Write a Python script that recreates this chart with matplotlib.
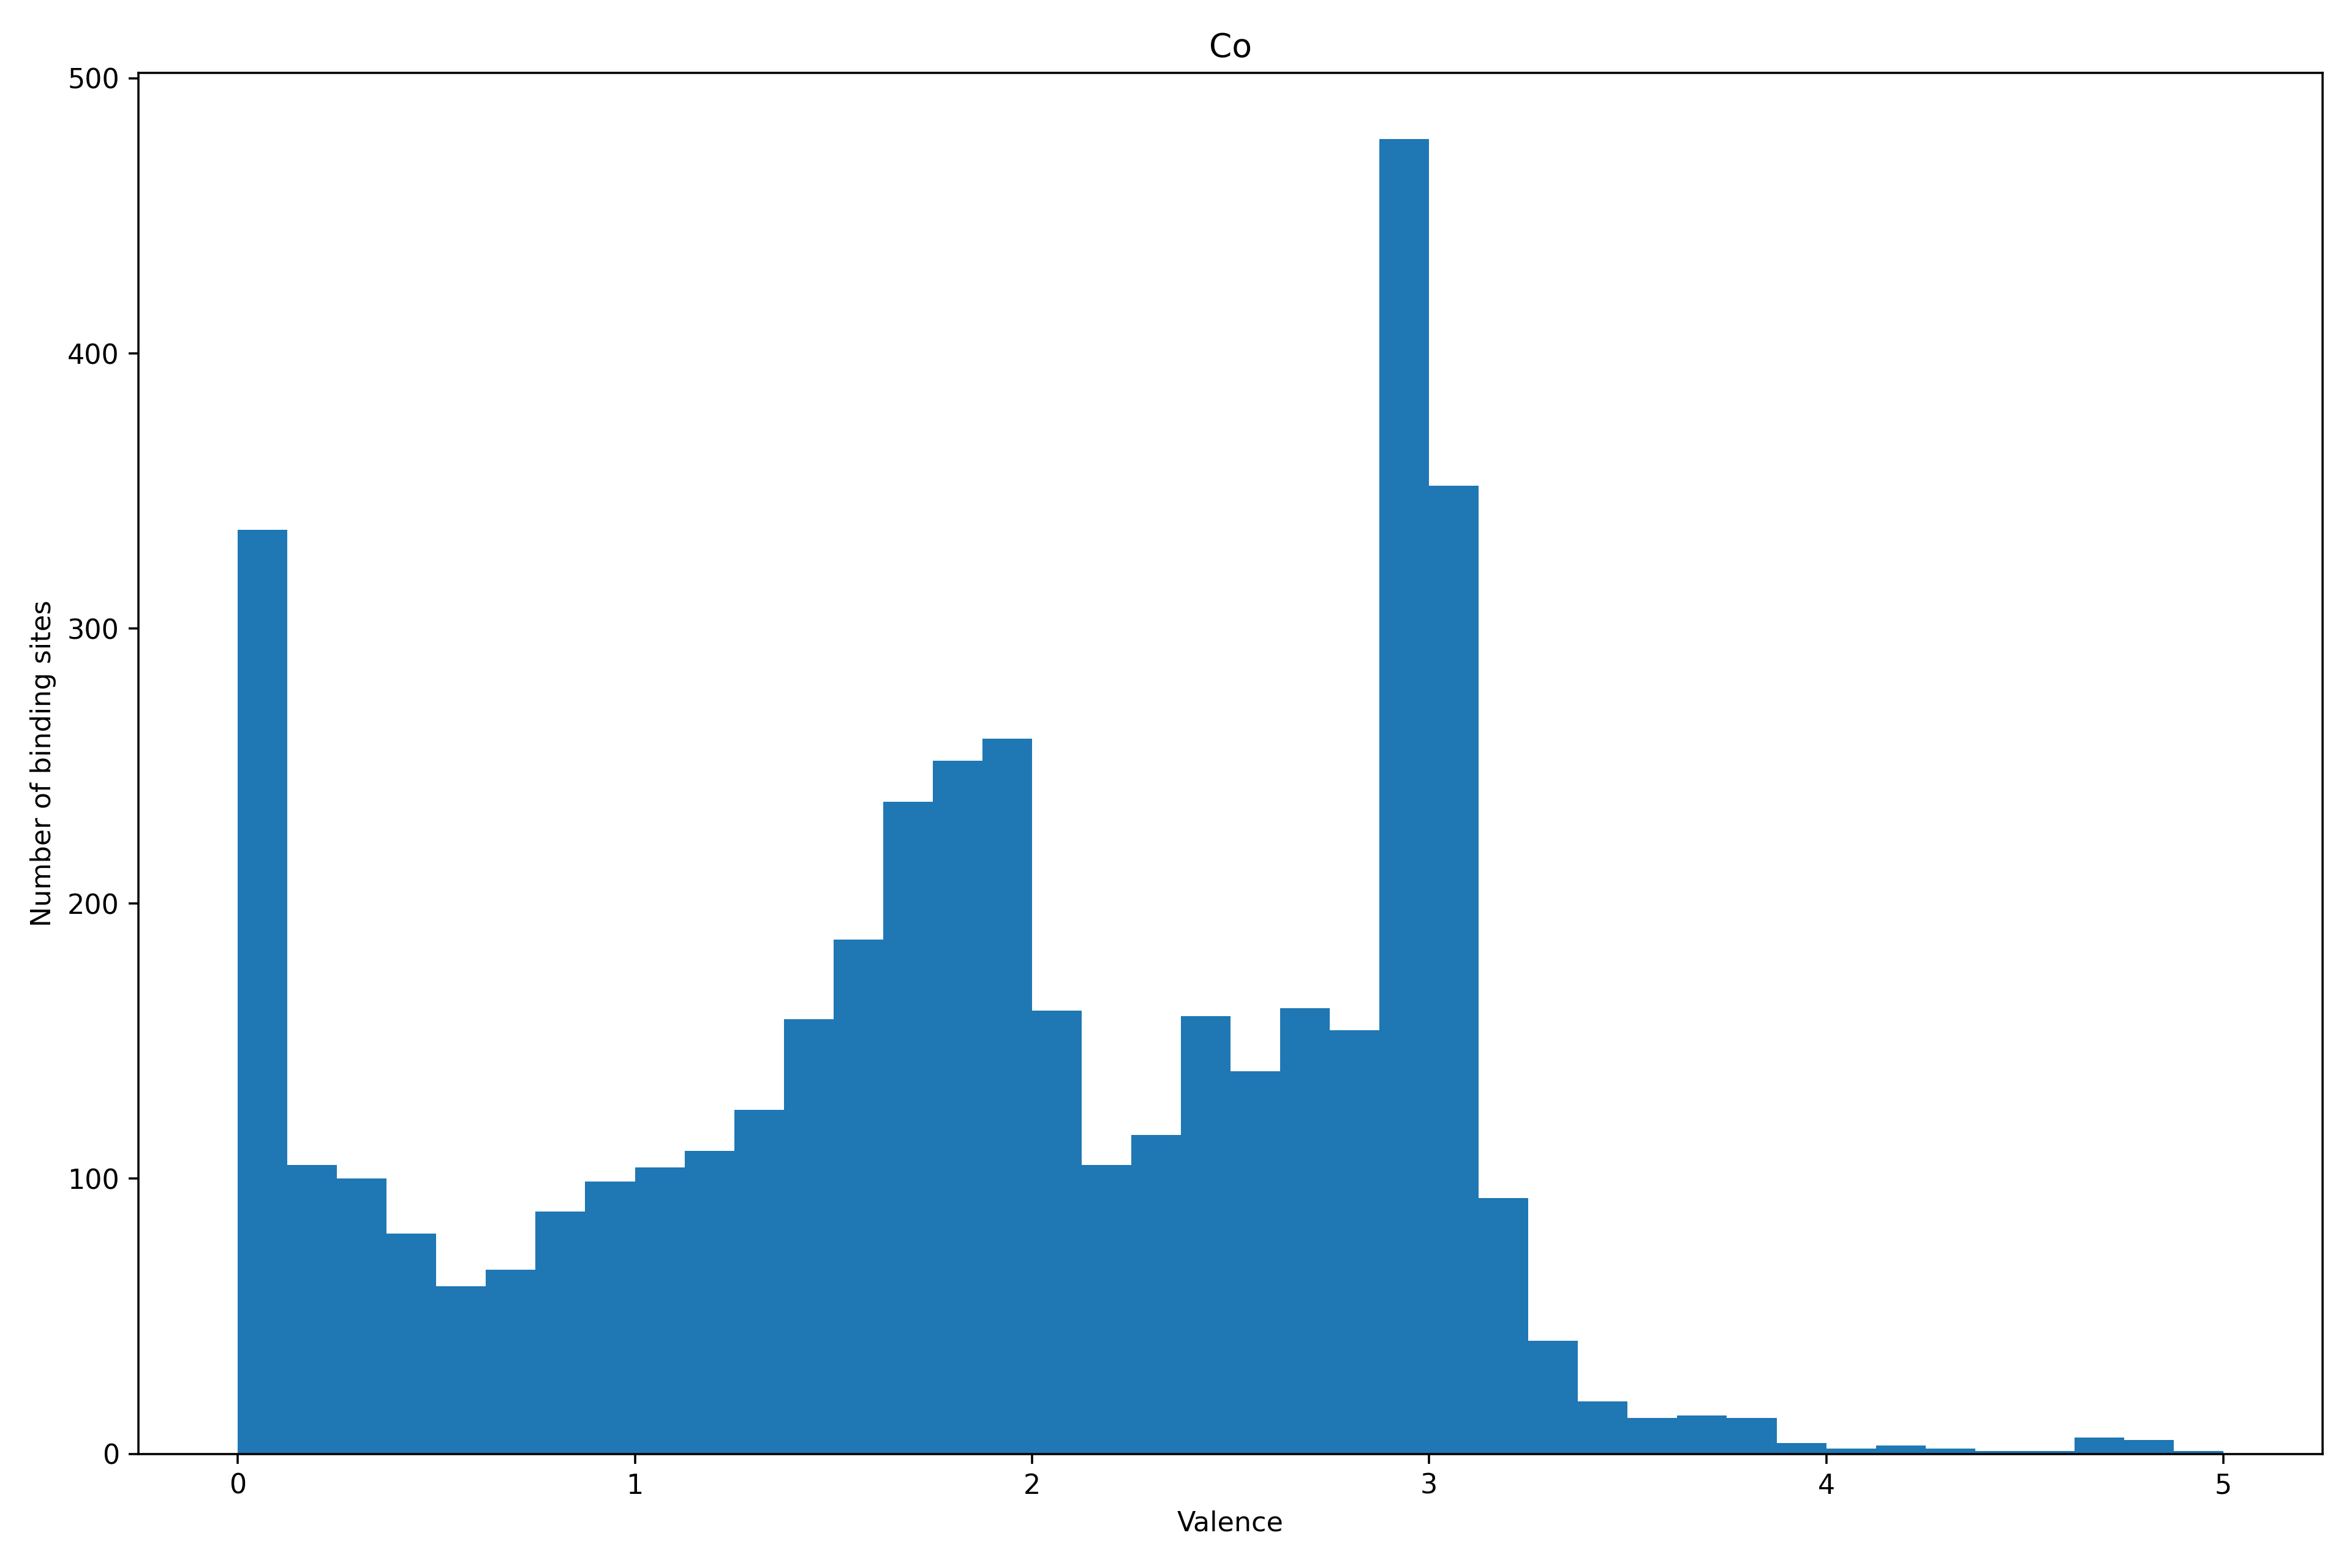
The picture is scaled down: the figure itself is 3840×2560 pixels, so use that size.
import numpy as np
import matplotlib

matplotlib.use("Agg")
import matplotlib.pyplot as plt

# histogram of Co binding-site valence, 40 bins over 0..5
bin_edges = np.linspace(0, 5, 41)
counts = [
    336, 105, 100, 80, 61, 67, 88, 99, 104, 110,
    125, 158, 187, 237, 252, 260, 161, 105, 116, 159,
    139, 162, 154, 478, 352, 93, 41, 19, 13, 14,
    13, 4, 2, 3, 2, 1, 1, 6, 5, 1,
]
title = "Co"
xlabel = "Valence"
ylabel = "Number of binding sites"

centers = (bin_edges[:-1] + bin_edges[1:]) / 2

fig, ax = plt.subplots(figsize=(12, 8))
ax.hist(centers, bins=bin_edges, weights=counts)
ax.set_title(title)
ax.set_xlabel(xlabel)
ax.set_ylabel(ylabel)
plt.tight_layout()
plt.savefig("out.png", dpi=320)
plt.close(fig)
